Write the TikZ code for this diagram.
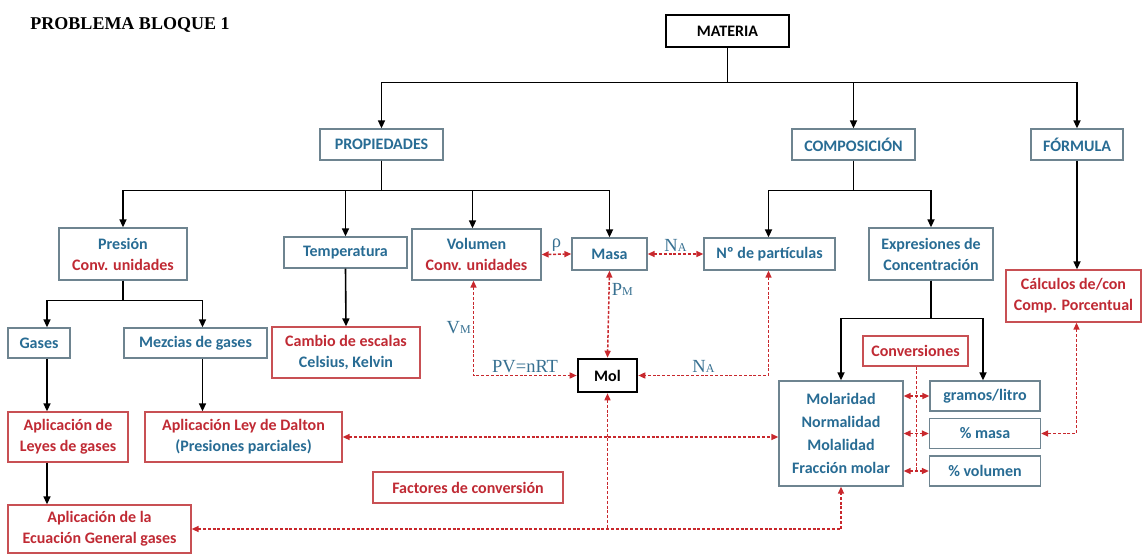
\documentclass[tikz,border=0pt]{standalone}
\usepackage{fontspec}
\setmainfont{Carlito}
\newfontfamily\tnrfont{Liberation Serif}
\usepackage{xcolor}
\usepackage{tikz}
\usetikzlibrary{arrows.meta}
\definecolor{txtblue}{RGB}{40,108,148}
\definecolor{txtred}{RGB}{192,42,52}
\definecolor{bxblue}{RGB}{110,132,144}
\definecolor{bxred}{RGB}{200,80,84}
\definecolor{lnkred}{RGB}{200,40,45}
\definecolor{lblclr}{RGB}{55,112,145}
\newcommand{\lowcap}[1]{{\fontsize{12}{12}\selectfont #1}}
\tikzset{
  bx/.style={rectangle,draw=bxblue,line width=1.3pt,fill=white,
             inner sep=2pt,align=center,text=txtblue,
             font=\fontsize{16}{21}\selectfont\bfseries},
  bxr/.style={bx,draw=bxred,text=txtred},
  bxk/.style={bx,draw=black,line width=2.6pt,text=black},
  conn/.style={-{Triangle[length=8pt,width=7pt]},line width=1.6pt},
  link/.style={{Triangle[length=7pt,width=6pt]}-{Triangle[length=7pt,width=6pt]},
               draw=lnkred,line width=1.5pt,dash pattern=on 3pt off 1.8pt},
  linkone/.style={link,{Triangle[length=7pt,width=6pt]}-},
}

\begin{document}
\begin{tikzpicture}[
    x=1pt,y=-1pt,
    lbl/.style={font=\tnrfont\fontsize{18.5}{20}\selectfont,text=lblclr,inner sep=2pt},
    ttl/.style={font=\tnrfont\fontsize{18}{20}\selectfont\bfseries},
]
\useasboundingbox (0,0) rectangle (1143,554);
\node[ttl] (title) at (130,25) {PROBLEMA BLOQUE 1};

\node[bxk,minimum width=123pt,minimum height=32pt] (materia) at (727.5,31) {MATERIA};
\node[bx,minimum width=123pt,minimum height=31pt] (propiedades) at (381.5,144.5) {PROPIEDADES};
\node[bx,minimum width=123pt,minimum height=31pt] (composicion) at (853.5,144.5) {COMPOSICIÓN};
\node[bx,minimum width=92pt,minimum height=31pt] (formula) at (1077,144.5) {FÓRMULA};

\node[bx,minimum width=128pt,minimum height=52pt] (presion) at (123,254) {Presión\\\textcolor{txtred}{Conv. unidades}};
\node[bx,minimum width=123pt,minimum height=31pt] (temperatura) at (345.5,252.5) {Temperatura};
\node[bx,minimum width=129pt,minimum height=51pt] (volumen) at (476.5,254.5) {Volumen\\\textcolor{txtred}{Conv. unidades}};
\node[bx,minimum width=75pt,minimum height=32pt] (masa) at (609.5,254) {Masa};
\node[bx,minimum width=131pt,minimum height=32pt] (particulas) at (769.5,254) {Nº de partículas};
\node[bx,minimum width=124pt,minimum height=52pt] (expresiones) at (931,254) {Expresiones de\\Concentración};
\node[bxr,minimum width=135pt,minimum height=52pt] (calculos) at (1073.5,296) {Cálculos de/con\\Comp. Porcentual};

\node[bx,minimum width=62pt,minimum height=30pt] (gases) at (39,343) {Gases};
\node[bx,minimum width=143pt,minimum height=30pt] (mezcias) at (195.5,343) {Mezcias de gases};
\node[bxr,minimum width=148pt,minimum height=51pt] (cambio) at (346,352.5) {Cambio de escalas\\\textcolor{txtblue}{Celsius, Kelvin}};
\node[bxr,minimum width=120pt,minimum height=50pt] (leyes) at (68,437) {Aplicación de\\Leyes de gases};
\node[bxr,minimum width=197pt,minimum height=50pt] (dalton) at (243.5,437) {Aplicación Ley de Dalton\\\textcolor{txtblue}{(Presiones parciales)}};
\node[bxr,minimum width=183pt,minimum height=48pt] (ecuacion) at (99.5,529) {Aplicación de la\\Ecuación General gases};
\node[bxr,minimum width=190pt,minimum height=31pt] (factores) at (468,487.5) {Factores de conversión};
\node[bxk,minimum width=59pt,minimum height=33pt] (mol) at (607.5,375.5) {Mol};

\node[bxr,minimum width=105pt,minimum height=30pt] (conversiones) at (915.5,351) {Conversiones};
\node[bx,minimum width=124pt,minimum height=105pt,font=\fontsize{16}{23}\selectfont\bfseries] (molaridad) at (841,433.5) {Molaridad\\Normalidad\\Molalidad\\Fracción molar};
\node[bx,minimum width=110pt,minimum height=30pt] (gramos) at (985,396) {gramos/litro};
\node[bx,minimum width=111pt,minimum height=30pt] (pmasa) at (985,433.5) {\% masa};
\node[bx,minimum width=111pt,minimum height=30pt] (pvolumen) at (985,471) {\% volumen};

\draw[conn] (materia.south) -- ++(0,34) -| (propiedades.north);
\draw[conn] (materia.south) -- ++(0,34) -| (composicion.north);
\draw[conn] (materia.south) -- ++(0,34) -| (formula.north);
\draw[conn] (propiedades.south) -- ++(0,30) -| (presion.north);
\draw[conn] (propiedades.south) -- ++(0,30) -| (temperatura.north);
\draw[conn] (propiedades.south) -- ++(0,30) -| ([xshift=-4pt]volumen.north);
\draw[conn] (propiedades.south) -- ++(0,30) -| (masa.north);
\draw[conn] (composicion.south) -- ++(0,30) -| ([xshift=-1pt]particulas.north);
\draw[conn] (composicion.south) -- ++(0,30) -| (expresiones.north);
\draw[conn] (formula.south) -- (formula.south |- calculos.north);
\draw[conn] (presion.south) -- ++(0,20) -| ([xshift=8pt]gases.north);
\draw[conn] (presion.south) -- ++(0,20) -| ([xshift=7pt]mezcias.north);
\draw[conn] (temperatura.south) -- (cambio.north);
\draw[conn] ([xshift=8pt]gases.south) -- ([xshift=8pt]gases.south |- leyes.north);
\draw[conn] ([xshift=7pt]mezcias.south) -- ([xshift=7pt]mezcias.south |- dalton.north);
\draw[conn] ([xshift=8pt]gases.south |- leyes.south) -- ([xshift=8pt]gases.south |- ecuacion.north);
\draw[conn] (expresiones.south) -- ++(0,38) -| (molaridad.north);
\draw[conn] (expresiones.south) -- ++(0,38) -| ([xshift=-2pt]gramos.north);

\draw[link] (volumen.east) -- (masa.west) node[lbl,midway,above] {ρ};
\draw[link] (masa.east) -- (particulas.west) node[lbl,midway,above] {N\lowcap{A}};
\draw[link] ([xshift=-3pt]volumen.south) |- (mol.west)
  node[lbl,pos=0.25,left] {V\lowcap{M}} node[lbl,pos=0.75,above] {PV=nRT};
\draw[link] (masa.south) -- (mol.north) node[lbl,pos=0.22,right] {P\lowcap{M}};
\draw[link] ([xshift=-1pt]particulas.south) |- (mol.east) node[lbl,pos=0.75,above] {N\lowcap{A}};
\draw[link] (dalton.east) -- (dalton.east -| molaridad.west);
\draw[link] (ecuacion.east) -| (molaridad.south);
\draw[linkone] (mol.south) -- (mol.south |- ecuacion.east);
\draw[link,-] ([xshift=1pt]conversiones.south) -- ([xshift=1pt]conversiones.south |- pvolumen.center);
\draw[link] (molaridad.east |- gramos.west) -- (gramos.west);
\draw[link] (molaridad.east |- pmasa.west) -- (pmasa.west);
\draw[link] (molaridad.east |- pvolumen.west) -- (pvolumen.west);
\draw[link] ([xshift=3pt]calculos.south) |- (pmasa.east);
\end{tikzpicture}
\end{document}
